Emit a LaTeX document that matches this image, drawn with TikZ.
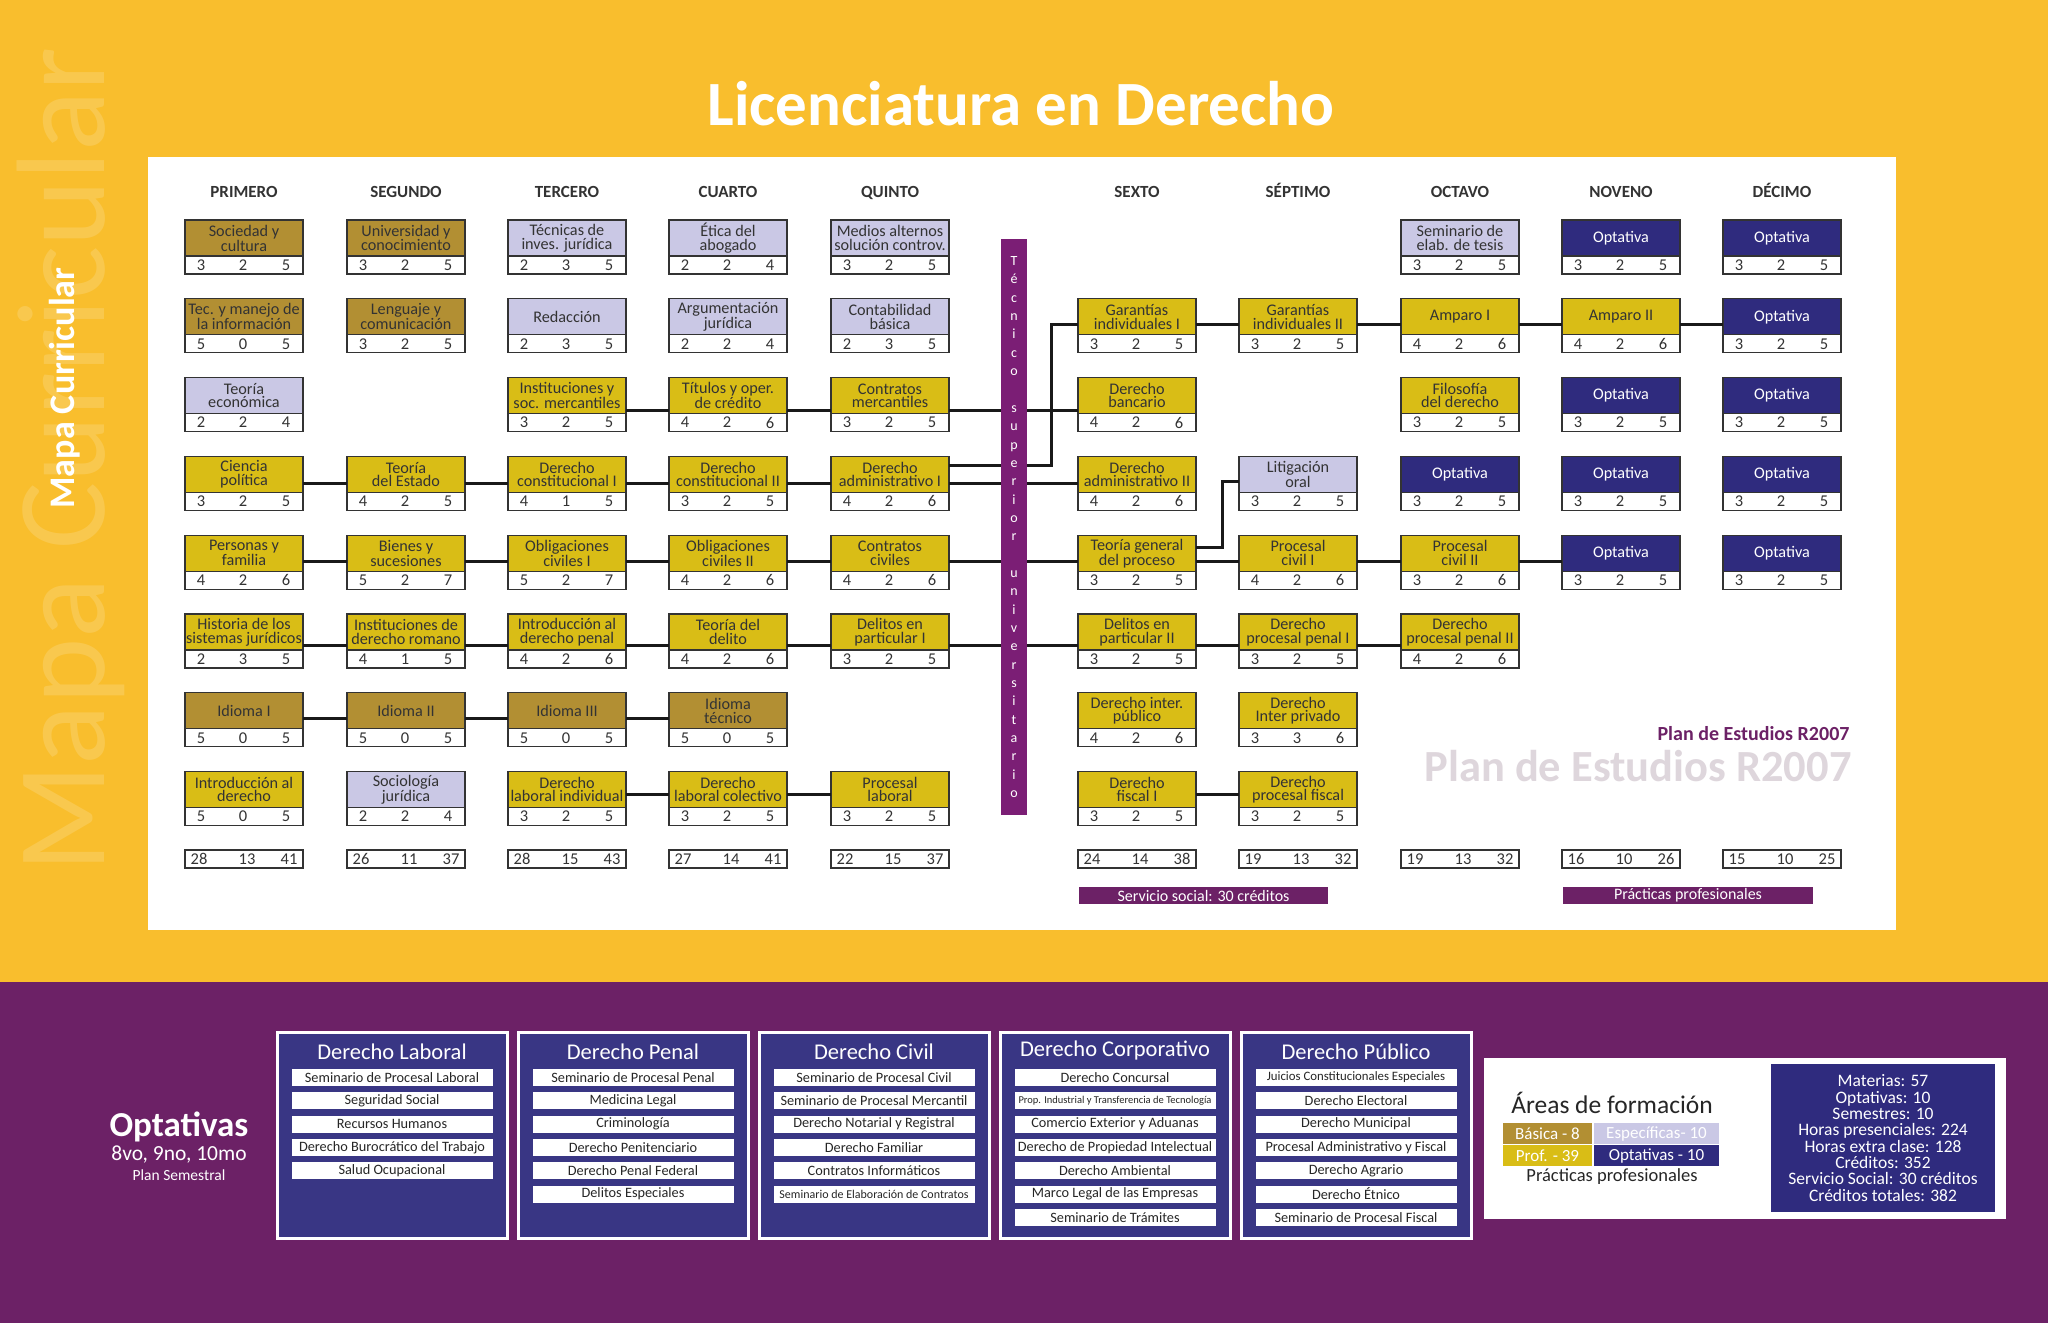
\documentclass[tikz,border=0pt]{standalone}
\usepackage{fontspec}
\setmainfont{Carlito}
\usetikzlibrary{positioning}

\definecolor{fondo}{HTML}{F9BE2D}
\definecolor{morado}{HTML}{6C2166}
\definecolor{ocre}{HTML}{B28F33}
\definecolor{amarillo}{HTML}{D9BD16}
\definecolor{lila}{HTML}{CAC8E5}
\definecolor{marino}{HTML}{2F2B7E}
\definecolor{marca}{HTML}{DED6DC}
\definecolor{tinta}{HTML}{333333}

\newcommand{\tam}[2]{\fontsize{#1}{#2}\selectfont}

% materia: nombre, x, fila, area, texto, teoria, practica, creditos
\newcommand{\materia}[8]{%
  \node[caja, #4] (#1) at (#2, {159.2+78.8*#3}) {#5};
  \node[tira, below=0pt of #1] (#1n) {};
  \node[num] (#1a) at ([xshift=16pt]#1n.west) {#6};
  \node[num] (#1b) at ([xshift=-1pt]#1n.center) {#7};
  \node[num] (#1c) at ([xshift=-17pt]#1n.east) {#8};
}
% totales del semestre
\newcommand{\totales}[5]{%
  \node[tira] (#1) at (#2, 859) {};
  \node[num] (#1a) at ([xshift=14pt]#1.west) {#3};
  \node[num] (#1b) at ([xshift=3pt]#1.center) {#4};
  \node[num] (#1c) at ([xshift=-14pt]#1.east) {#5};
}

\begin{document}
\begin{tikzpicture}[x=1pt, y=-1pt,
  caja/.style={draw=tinta, line width=1.1pt, outer sep=0pt, minimum width=118pt, minimum height=36pt, inner sep=0pt, align=center, font=\tam{16.2}{13.6}, text=tinta},
  basica/.style={fill=ocre},
  espec/.style={fill=lila},
  prof/.style={fill=amarillo},
  optat/.style={fill=marino, text=white},
  tira/.style={draw=tinta, line width=1.1pt, outer sep=0pt, fill=white, minimum width=118pt, minimum height=18pt, inner sep=0pt},
  num/.style={font=\tam{16.5}{16.5}, text=tinta, inner sep=0pt},
  enlace/.style={line width=3pt, black!90},
  semestre/.style={font=\bfseries\tam{17}{17}, text=tinta, anchor=base},
  grupo/.style={draw=white, line width=3pt, fill=marino!95!white, minimum width=230pt, minimum height=206pt},
  titgrupo/.style={font=\tam{22.5}{22.5}, text=white},
  opcion/.style={fill=white, minimum width=201pt, minimum height=17pt, inner sep=0pt, font=\tam{14.3}{14.3}, text=black!85},
  leyenda/.style={minimum height=21pt, inner sep=0pt, font=\tam{17}{17}, text=white},
  insignia/.style={fill=morado, minimum height=17pt, inner sep=0pt, font=\tam{16}{16}, text=white}]
  \useasboundingbox (0,0) rectangle (2048,1323);
  % fondo
  \fill[fondo] (0,0) rectangle (2048,982);
  \fill[morado] (0,982) rectangle (2048,1323);
  \fill[white] (148,157) rectangle (1896,930);
  \node[rotate=90, anchor=base, font=\tam{126}{126}, text=white, text opacity=0.16] (marca) at (104,460) {Mapa Curricular};
  \node[rotate=90, anchor=base, font=\bfseries\tam{36}{36}, text=white] (mapa) at (74,388) {Mapa Curricular};
  \node[font=\bfseries\tam{63}{63}, text=white] (titulo) at (1021,104) {Licenciatura en Derecho};

  % semestres
  \foreach \s/\x in {PRIMERO/244, SEGUNDO/406, TERCERO/567, CUARTO/728, QUINTO/890, SEXTO/1137, SÉPTIMO/1298, OCTAVO/1460, NOVENO/1621, DÉCIMO/1782}
    \node[semestre] (sem-\x) at (\x,197) {\s};

  % primero
  \materia{pri1}{244}{1}{basica}{Sociedad y\\cultura}{3}{2}{5}
  \materia{pri2}{244}{2}{basica}{Tec. y manejo de\\la información}{5}{0}{5}
  \materia{pri3}{244}{3}{espec}{Teoría\\económica}{2}{2}{4}
  \materia{pri4}{244}{4}{prof}{Ciencia\\política}{3}{2}{5}
  \materia{pri5}{244}{5}{prof}{Personas y\\familia}{4}{2}{6}
  \materia{pri6}{244}{6}{prof}{Historia de los\\sistemas jurídicos}{2}{3}{5}
  \materia{pri7}{244}{7}{basica}{Idioma I}{5}{0}{5}
  \materia{pri8}{244}{8}{prof}{Introducción al\\derecho}{5}{0}{5}
  % segundo
  \materia{seg1}{406}{1}{basica}{Universidad y\\conocimiento}{3}{2}{5}
  \materia{seg2}{406}{2}{basica}{Lenguaje y\\comunicación}{3}{2}{5}
  \materia{seg4}{406}{4}{prof}{Teoría\\del Estado}{4}{2}{5}
  \materia{seg5}{406}{5}{prof}{Bienes y\\sucesiones}{5}{2}{7}
  \materia{seg6}{406}{6}{prof}{Instituciones de\\derecho romano}{4}{1}{5}
  \materia{seg7}{406}{7}{basica}{Idioma II}{5}{0}{5}
  \materia{seg8}{406}{8}{espec}{Sociología\\jurídica}{2}{2}{4}
  % tercero
  \materia{ter1}{567}{1}{espec}{Técnicas de\\inves. jurídica}{2}{3}{5}
  \materia{ter2}{567}{2}{espec}{Redacción}{2}{3}{5}
  \materia{ter3}{567}{3}{prof}{Instituciones y\\soc. mercantiles}{3}{2}{5}
  \materia{ter4}{567}{4}{prof}{Derecho\\constitucional I}{4}{1}{5}
  \materia{ter5}{567}{5}{prof}{Obligaciones\\civiles I}{5}{2}{7}
  \materia{ter6}{567}{6}{prof}{Introducción al\\derecho penal}{4}{2}{6}
  \materia{ter7}{567}{7}{basica}{Idioma III}{5}{0}{5}
  \materia{ter8}{567}{8}{prof}{Derecho\\laboral individual}{3}{2}{5}
  % cuarto
  \materia{cua1}{728}{1}{espec}{Ética del\\abogado}{2}{2}{4}
  \materia{cua2}{728}{2}{espec}{Argumentación\\jurídica}{2}{2}{4}
  \materia{cua3}{728}{3}{prof}{Títulos y oper.\\de crédito}{4}{2}{6}
  \materia{cua4}{728}{4}{prof}{Derecho\\constitucional II}{3}{2}{5}
  \materia{cua5}{728}{5}{prof}{Obligaciones\\civiles II}{4}{2}{6}
  \materia{cua6}{728}{6}{prof}{Teoría del\\delito}{4}{2}{6}
  \materia{cua7}{728}{7}{basica}{Idioma\\técnico}{5}{0}{5}
  \materia{cua8}{728}{8}{prof}{Derecho\\laboral colectivo}{3}{2}{5}
  % quinto
  \materia{qui1}{890}{1}{espec}{Medios alternos\\solución controv.}{3}{2}{5}
  \materia{qui2}{890}{2}{espec}{Contabilidad\\básica}{2}{3}{5}
  \materia{qui3}{890}{3}{prof}{Contratos\\mercantiles}{3}{2}{5}
  \materia{qui4}{890}{4}{prof}{Derecho\\administrativo I}{4}{2}{6}
  \materia{qui5}{890}{5}{prof}{Contratos\\civiles}{4}{2}{6}
  \materia{qui6}{890}{6}{prof}{Delitos en\\particular I}{3}{2}{5}
  \materia{qui8}{890}{8}{prof}{Procesal\\laboral}{3}{2}{5}
  % sexto
  \materia{sex2}{1137}{2}{prof}{Garantías\\individuales I}{3}{2}{5}
  \materia{sex3}{1137}{3}{prof}{Derecho\\bancario}{4}{2}{6}
  \materia{sex4}{1137}{4}{prof}{Derecho\\administrativo II}{4}{2}{6}
  \materia{sex5}{1137}{5}{prof}{Teoría general\\del proceso}{3}{2}{5}
  \materia{sex6}{1137}{6}{prof}{Delitos en\\particular II}{3}{2}{5}
  \materia{sex7}{1137}{7}{prof}{Derecho inter.\\público}{4}{2}{6}
  \materia{sex8}{1137}{8}{prof}{Derecho\\fiscal I}{3}{2}{5}
  % septimo
  \materia{sep2}{1298}{2}{prof}{Garantías\\individuales II}{3}{2}{5}
  \materia{sep4}{1298}{4}{espec}{Litigación\\oral}{3}{2}{5}
  \materia{sep5}{1298}{5}{prof}{Procesal\\civil I}{4}{2}{6}
  \materia{sep6}{1298}{6}{prof}{Derecho\\procesal penal I}{3}{2}{5}
  \materia{sep7}{1298}{7}{prof}{Derecho\\Inter privado}{3}{3}{6}
  \materia{sep8}{1298}{8}{prof}{Derecho\\procesal fiscal}{3}{2}{5}
  % octavo
  \materia{oct1}{1460}{1}{espec}{Seminario de\\elab. de tesis}{3}{2}{5}
  \materia{oct2}{1460}{2}{prof}{Amparo I}{4}{2}{6}
  \materia{oct3}{1460}{3}{prof}{Filosofía\\del derecho}{3}{2}{5}
  \materia{oct4}{1460}{4}{optat}{Optativa}{3}{2}{5}
  \materia{oct5}{1460}{5}{prof}{Procesal\\civil II}{3}{2}{6}
  \materia{oct6}{1460}{6}{prof}{Derecho\\procesal penal II}{4}{2}{6}
  % noveno
  \materia{nov1}{1621}{1}{optat}{Optativa}{3}{2}{5}
  \materia{nov2}{1621}{2}{prof}{Amparo II}{4}{2}{6}
  \materia{nov3}{1621}{3}{optat}{Optativa}{3}{2}{5}
  \materia{nov4}{1621}{4}{optat}{Optativa}{3}{2}{5}
  \materia{nov5}{1621}{5}{optat}{Optativa}{3}{2}{5}
  % decimo
  \foreach \r in {1,...,5} { \materia{dec\r}{1782}{\r}{optat}{Optativa}{3}{2}{5} }

  % totales
  \totales{tpri}{244}{28}{13}{41}
  \totales{tseg}{406}{26}{11}{37}
  \totales{tter}{567}{28}{15}{43}
  \totales{tcua}{728}{27}{14}{41}
  \totales{tqui}{890}{22}{15}{37}
  \totales{tsex}{1137}{24}{14}{38}
  \totales{tsep}{1298}{19}{13}{32}
  \totales{toct}{1460}{19}{13}{32}
  \totales{tnov}{1621}{16}{10}{26}
  \totales{tdec}{1782}{15}{10}{25}

  % seriacion
  \foreach \a/\b/\d in {ter3/cua3/15, cua3/qui3/15, qui3/sex3/15,
      pri4/seg4/9, seg4/ter4/9, ter4/cua4/9, cua4/qui4/9, qui4/sex4/9,
      pri5/seg5/8, seg5/ter5/8, ter5/cua5/8, cua5/qui5/8, qui5/sex5/8, sex5/sep5/8, sep5/oct5/8, oct5/nov5/8,
      pri6/seg6/13, seg6/ter6/13, ter6/cua6/13, cua6/qui6/13, qui6/sex6/13, sex6/sep6/13, sep6/oct6/13,
      pri7/seg7/8, seg7/ter7/8, ter7/cua7/8,
      ter8/cua8/5, cua8/qui8/5, sex8/sep8/5,
      sex2/sep2/7.5, sep2/oct2/7.5, oct2/nov2/7.5, nov2/dec2/7.5}
    \draw[enlace] ([yshift=-\d pt]\a.east) -- ([yshift=-\d pt]\b.west);
  \draw[enlace] ([yshift=9pt]qui4.east) -| ([xshift=-27pt,yshift=-7.5pt]sex2.west) -- ([yshift=-7.5pt]sex2.west);
  \draw[enlace] ([yshift=6pt]sex5.east) -| ([xshift=-17pt,yshift=-7.5pt]sep4.west) -- ([yshift=-7.5pt]sep4.west);

  % tecnico superior universitario
  \node[fill=morado!90!magenta, minimum width=26pt, minimum height=576pt, inner sep=0pt] (tsu) at (1014,527) {};
  \foreach \l [count=\i from 0] in {T,é,c,n,i,c,o,{},s,u,p,e,r,i,o,r,{},u,n,i,v,e,r,s,i,t,a,r,i,o}
    \node[anchor=base, font=\tam{14}{14}, text=white, inner sep=0pt] (tsu-\i) at (1014,{265.5+18.35*\i}) {\l};

  \node[insignia, minimum width=249pt] (servicio) at (1203.5,895.5) {Servicio social: 30 créditos};
  \node[insignia, minimum width=250pt] (practicas) at (1688,895.5) {Prácticas profesionales};
  \node[anchor=base east, font=\bfseries\tam{20}{20}, text=morado] (plan) at (1853,740) {Plan de Estudios R2007};
  \node[anchor=base east, font=\bfseries\tam{44.5}{44.5}, text=marca] (plangris) at (1855,781) {Plan de Estudios R2007};

  % optativas
  \node[font=\bfseries\tam{35}{35}, text=white] (opt) at (179,1127) {Optativas};
  \node[font=\tam{21.5}{21.5}, text=white] (optsem) at (179,1155) {8vo, 9no, 10mo};
  \node[font=\tam{15.5}{15.5}, text=white] (optplan) at (179,1175) {Plan Semestral};

  \node[grupo] (lab) at (392,1135) {};
  \node[titgrupo] (lab-t) at (392,1052) {Derecho Laboral};
  \foreach \t [count=\i from 0] in {Seminario de Procesal Laboral, Seguridad Social, Recursos Humanos, Derecho Burocrático del Trabajo, Salud Ocupacional}
    \node[opcion] (lab-\i) at (392,{1077.5+23.3*\i}) {\t};

  \node[grupo] (pen) at (633,1135) {};
  \node[titgrupo] (pen-t) at (633,1052) {Derecho Penal};
  \foreach \t [count=\i from 0] in {Seminario de Procesal Penal, Medicina Legal, Criminología, Derecho Penitenciario, Derecho Penal Federal, Delitos Especiales}
    \node[opcion] (pen-\i) at (633,{1077.5+23.3*\i}) {\t};

  \node[grupo] (civ) at (874,1135) {};
  \node[titgrupo] (civ-t) at (874,1052) {Derecho Civil};
  \foreach \t [count=\i from 0] in {Seminario de Procesal Civil, Seminario de Procesal Mercantil, Derecho Notarial y Registral, Derecho Familiar, Contratos Informáticos, {\tam{12}{12}Seminario de Elaboración de Contratos}}
    \node[opcion] (civ-\i) at (874,{1077.5+23.3*\i}) {\t};

  \node[grupo] (cor) at (1115,1135) {};
  \node[titgrupo] (cor-t) at (1115,1050) {Derecho Corporativo};
  \foreach \t [count=\i from 0] in {Derecho Concursal, {\tam{10.5}{10.5}Prop. Industrial y Transferencia de Tecnología}, Comercio Exterior y Aduanas, Derecho de Propiedad Intelectual, Derecho Ambiental, Marco Legal de las Empresas, Seminario de Trámites}
    \node[opcion] (cor-\i) at (1115,{1077.5+23.3*\i}) {\t};

  \node[grupo] (pub) at (1356,1135) {};
  \node[titgrupo] (pub-t) at (1356,1052) {Derecho Público};
  \foreach \t [count=\i from 0] in {{\tam{12.8}{12.8}Juicios Constitucionales Especiales}, Derecho Electoral, Derecho Municipal, Procesal Administrativo y Fiscal, Derecho Agrario, Derecho Étnico, Seminario de Procesal Fiscal}
    \node[opcion] (pub-\i) at (1356,{1077.5+23.3*\i}) {\t};

  % areas de formacion
  \node[fill=white, minimum width=522pt, minimum height=161pt] (areas) at (1745,1138.5) {};
  \node[font=\tam{25.5}{25.5}, text=black!85] (areas-t) at (1612,1103) {Áreas de formación};
  \node[leyenda, fill=ocre, minimum width=89pt] (lbas) at (1547.5,1133.5) {Básica - 8};
  \node[leyenda, fill=lila, minimum width=125pt] (lesp) at (1656.5,1133.5) {Específicas- 10};
  \node[leyenda, fill=amarillo, minimum width=89pt] (lpro) at (1547.5,1155.5) {Prof. - 39};
  \node[leyenda, fill=marino, minimum width=125pt] (lopt) at (1656.5,1155.5) {Optativas - 10};
  \node[font=\tam{18.5}{18.5}, text=black!85] (areas-p) at (1612,1177) {Prácticas profesionales};
  \node[fill=marino, minimum width=224pt, minimum height=148pt, align=center, font=\tam{17.5}{16.3}, text=white] (datos) at (1883,1138) {Materias: 57\\Optativas: 10\\Semestres: 10\\Horas presenciales: 224\\Horas extra clase: 128\\Créditos: 352\\Servicio Social: 30 créditos\\Créditos totales: 382};
\end{tikzpicture}
\end{document}
